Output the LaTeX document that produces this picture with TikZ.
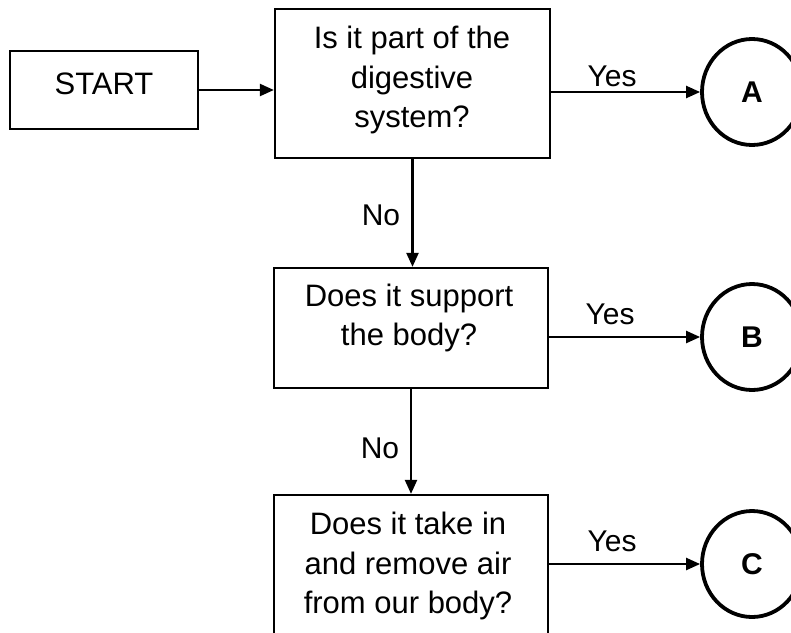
\documentclass[tikz,border=0pt]{standalone}
\usepackage{fontspec}
\setmainfont{Liberation Sans}
\usetikzlibrary{arrows.meta,shapes.geometric}
\begin{document}
\begin{tikzpicture}[x=1pt,y=-1pt,
  box/.style={draw, line width=2.3pt, inner sep=0pt},
  txt/.style={align=center, font=\fontsize{31}{39.5}\selectfont, inner sep=0pt},
  lbl/.style={font=\fontsize{30}{36}\selectfont, inner sep=0pt},
  endpt/.style={ellipse, draw, line width=3.8pt, minimum width=100pt,
    minimum height=106pt, inner sep=0pt, font=\fontsize{30}{36}\selectfont\bfseries},
  arr/.style={line width=2.3pt, -{Triangle[length=14pt,width=12pt]}}]
\useasboundingbox (0,0) rectangle (791,632);

% boxes
\node[box, minimum width=188pt, minimum height=78pt] (start) at (104,90) {};
\node[txt] (tstart) at (104,84) {START};

\node[box, minimum width=275pt, minimum height=149pt] (b1) at (412.5,83.5) {};
\node[txt] (t1) at (412,80) {Is it part of the\\digestive\\system?};

\node[box, minimum width=274pt, minimum height=120pt] (b2) at (411,328) {};
\node[txt] (t2) at (409,318) {Does it support\\the body?};

\node[box, minimum width=274pt, minimum height=160pt] (b3) at (411,575) {};
\node[txt] (t3) at (408,566) {Does it take in\\and remove air\\from our body?};

% end points
\node[endpt] (A) at (752,92) {A};
\node[endpt] (B) at (752,337) {B};
\node[endpt] (C) at (752,564) {C};

% connectors
\draw[arr] (start.east) -- (start.east -| b1.west);
\draw[arr] (b1.east |- A) -- (A.west);
\draw[arr] (b1.south) -- (b1.south |- b2.north);
\draw[arr] (b2.east |- B) -- (B.west);
\draw[arr] (b2.south) -- (b2.south |- b3.north);
\draw[arr] (b3.east |- C) -- (C.west);

% branch labels
\node[lbl] (y1) at (612,76) {Yes};
\node[lbl] (y2) at (610,314) {Yes};
\node[lbl] (y3) at (612,541) {Yes};
\node[lbl] (n1) at (381,215) {No};
\node[lbl] (n2) at (380,448) {No};
\end{tikzpicture}
\end{document}
